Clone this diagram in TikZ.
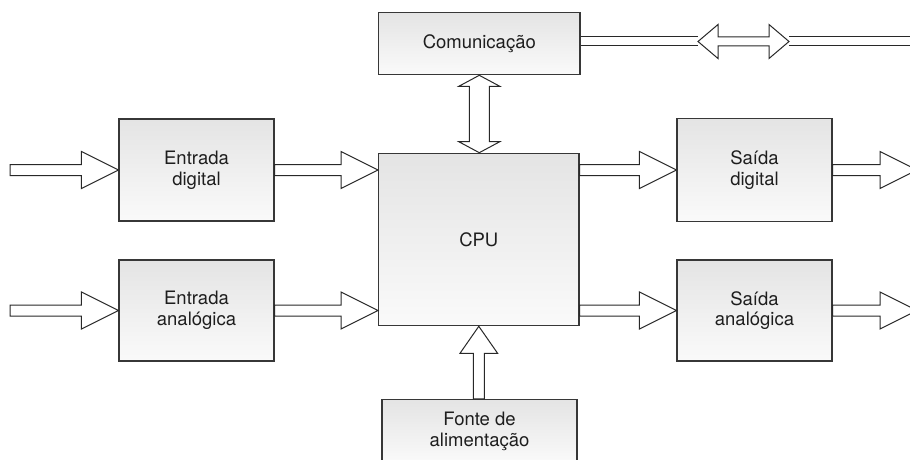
\documentclass[tikz,border=0pt]{standalone}
\usepackage{fontspec}
\setmainfont{TeX Gyre Heros}
\usetikzlibrary{calc}
\definecolor{boxtop}{RGB}{228,228,228}
\definecolor{boxbot}{RGB}{250,250,250}
\definecolor{edgec}{RGB}{55,55,55}
\definecolor{arrc}{RGB}{40,40,40}
\definecolor{txtc}{RGB}{30,30,30}
\tikzset{
  blockbox/.style={draw=edgec, line width=1.2pt, top color=boxtop, bottom color=boxbot,
    text=txtc, align=center, inner sep=0pt,
    font=\fontsize{18.5}{20.7}\selectfont},
  fat/.style={draw=arrc, line width=1pt, fill=white, line join=miter},
  busline/.style={draw=arrc, line width=1pt},
}
% horizontal block arrow pointing right, tip at #2, tail at x of #1
\newcommand\harrowR[2]{%
  \draw[fat] let \p1=(#1), \p2=(#2) in
    (\x1,\y2+5.5pt) -- (\x2-37pt,\y2+5.5pt) -- (\x2-37pt,\y2+18.5pt) -- (\x2,\y2)
    -- (\x2-37pt,\y2-18.5pt) -- (\x2-37pt,\y2-5.5pt) -- (\x1,\y2-5.5pt) -- cycle;}
\begin{document}
\begin{tikzpicture}[x=1pt,y=-1pt]
\useasboundingbox (0,0) rectangle (910,460);
\clip (0,0) rectangle (910,460);

% boxes
\node[blockbox, minimum width=155pt, minimum height=102pt] (ed) at (196.5,170) {Entrada\\digital};
\node[blockbox, minimum width=155pt, minimum height=101pt] (ea) at (196.5,310.5) {Entrada\\analógica};
\node[blockbox, minimum width=200.4pt, minimum height=172.4pt] (cpu) at (478.8,239.5) {CPU};
\node[blockbox, minimum width=201.4pt, minimum height=62pt] (comm) at (479.3,43.7) {Comunicação};
\node[blockbox, minimum width=155pt, minimum height=103.4pt] (sd) at (754.5,170) {Saída\\digital};
\node[blockbox, minimum width=155pt, minimum height=101pt] (sa) at (754.5,310.5) {Saída\\analógica};
\node[blockbox, minimum width=195pt, minimum height=63.7pt] (fonte) at (479.5,431.2) {Fonte de\\alimentação};

% free ends
\coordinate (inD) at (10,170);
\coordinate (inA) at (10,310.5);
\coordinate (outD) at (917,170);
\coordinate (outA) at (917,310.5);
\coordinate (bl) at (698,41.5);
\coordinate (br) at (789,41.5);
\coordinate (be) at (915,41.5);

% input arrows
\harrowR{inD}{ed.west}
\harrowR{inA}{ea.west}
% to CPU
\harrowR{ed.east}{cpu.west |- ed.east}
\harrowR{ea.east}{cpu.west |- ea.east}
% CPU to outputs
\harrowR{cpu.east}{sd.west}
\harrowR{cpu.east}{sa.west}
% outputs
\harrowR{sd.east}{outD}
\harrowR{sa.east}{outA}

% power supply to CPU
\draw[fat] let \p1=(fonte.north), \p2=(cpu.south) in
  (\x2-5.5pt,\y1) -- (\x2-5.5pt,\y2-27pt) -- (\x2-18.8pt,\y2-27pt) -- (\x2,\y2)
  -- (\x2+18.8pt,\y2-27pt) -- (\x2+5.5pt,\y2-27pt) -- (\x2+5.5pt,\y1) -- cycle;

% communication <-> CPU
\draw[fat] let \p1=(comm.south), \p2=(cpu.north) in
  (\x1,\y1) -- (\x1+20.5pt,\y1-11pt) -- (\x1+10pt,\y1-11pt) -- (\x1+10pt,\y2+11pt)
  -- (\x1+20.5pt,\y2+11pt) -- (\x1,\y2) -- (\x1-20.5pt,\y2+11pt) -- (\x1-10pt,\y2+11pt)
  -- (\x1-10pt,\y1-11pt) -- (\x1-20.5pt,\y1-11pt) -- cycle;

% communication bus
\draw[busline] let \p1=(comm.east), \p2=(bl) in
  (\x1,\y2+4.5pt) -- (\x2,\y2+4.5pt) (\x1,\y2-4.5pt) -- (\x2,\y2-4.5pt);
\draw[fat] let \p1=(bl), \p2=(br) in
  (\x1,\y1) -- (\x1+20pt,\y1+17pt) -- (\x1+20pt,\y1+4.5pt) -- (\x2-20pt,\y1+4.5pt)
  -- (\x2-20pt,\y1+17pt) -- (\x2,\y1) -- (\x2-20pt,\y1-17pt) -- (\x2-20pt,\y1-4.5pt)
  -- (\x1+20pt,\y1-4.5pt) -- (\x1+20pt,\y1-17pt) -- cycle;
\draw[busline] let \p1=(br), \p2=(be) in
  (\x1,\y1+4.5pt) -- (\x2,\y1+4.5pt) (\x1,\y1-4.5pt) -- (\x2,\y1-4.5pt);
\end{tikzpicture}
\end{document}
